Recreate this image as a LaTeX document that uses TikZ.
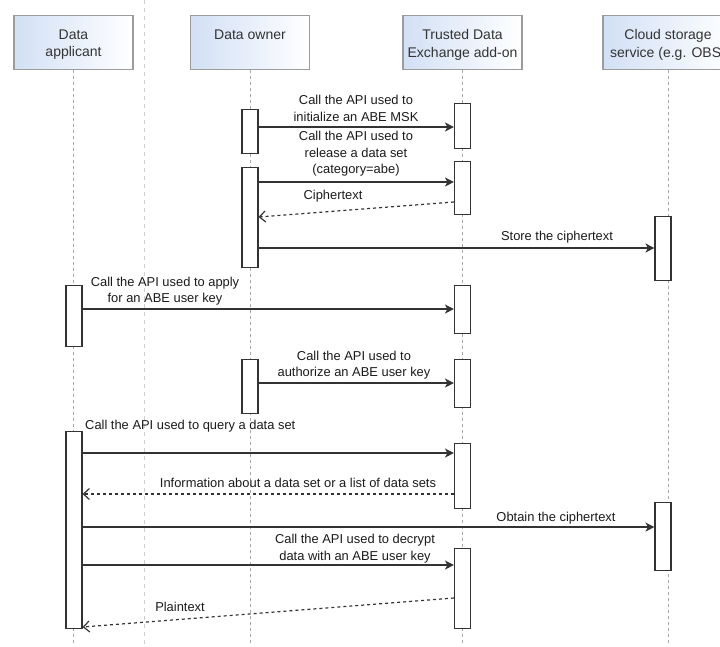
\documentclass[tikz,border=0pt]{standalone}
\usepackage{fontspec}
\setmainfont{Liberation Sans}
\usetikzlibrary{arrows.meta,calc}
\definecolor{hdrblue}{HTML}{D2E0F5}
\definecolor{hdrline}{HTML}{9C9C9C}
\definecolor{lifegray}{HTML}{A8A8A8}
\definecolor{sepgray}{HTML}{CFCFCF}
\definecolor{ink}{HTML}{333333}
\definecolor{txt}{HTML}{1A1A1A}
\begin{document}
\begin{tikzpicture}[x=1pt,y=-1pt,
 header/.style={draw=hdrline, line width=1.1pt, left color=hdrblue, right color=white, minimum width=119pt, minimum height=54pt, anchor=north, inner sep=0pt},
 htext/.style={anchor=north, align=center, font=\fontsize{14}{17.5}\selectfont, text=ink, inner sep=0pt},
 life/.style={draw=lifegray, line width=1pt, dash pattern=on 3pt off 3pt},
 sepline/.style={draw=sepgray, line width=1pt, dash pattern=on 4pt off 4pt},
 act/.style={draw=ink, fill=white, line width=1.1pt, minimum width=16pt, anchor=north, inner sep=0pt},
 msg/.style={draw=ink, line width=1.2pt, -{Stealth[length=9pt,width=9pt,inset=2.5pt]}},
 ret/.style={draw=ink, line width=1.2pt, dash pattern=on 3pt off 3pt, -{Straight Barb[length=6pt,width=11pt,line width=1.2pt]}},
 lbl/.style={font=\fontsize{12.9}{16.5}\selectfont, text=txt, align=center, inner sep=0pt},
]
\useasboundingbox (0,0) rectangle (720,646);
\clip (0,0) rectangle (720,646);

% separator
\coordinate (septop) at (144,0);
\coordinate (sepbot) at (144,646);
\draw[sepline] (septop) -- (sepbot);

% headers
\node[header] (hA) at (73.5,15) {};
\node[header] (hO) at (250,15) {};
\node[header] (hT) at (462.5,15) {};
\node[header, minimum width=130pt] (hC) at (668,15) {};
\node[htext] (tA) at (73.5,29.5) {Data\\applicant};
\node[htext] (tO) at (250,29.5) {Data owner};
\node[htext] (tT) at (462.5,29.5) {Trusted Data\\Exchange add-on};
\node[htext] (tC) at (668,29.5) {Cloud storage\\service (e.g. OBS)};

% lifelines
\coordinate (bot) at (0,646);
\draw[life] (hA.south) -- (hA.south |- bot);
\draw[life] (hO.south) -- (hO.south |- bot);
\draw[life] (hT.south) -- (hT.south |- bot);
\draw[life] (hC.south) -- (hC.south |- bot);

% activation boxes
\node[act, minimum height=44pt] (o1) at (250,109) {};
\node[act, minimum height=100pt] (o2) at (250,167) {};
\node[act, minimum height=54pt] (o3) at (250,359) {};
\node[act, minimum height=45pt] (t1) at (462.5,103) {};
\node[act, minimum height=53pt] (t2) at (462.5,161) {};
\node[act, minimum height=48pt] (t3) at (462.5,285) {};
\node[act, minimum height=48pt] (t4) at (462.5,359) {};
\node[act, minimum height=65pt] (t5) at (462.5,443) {};
\node[act, minimum height=80pt] (t6) at (462.5,548) {};
\node[act, minimum height=64pt] (c1) at (663,216) {};
\node[act, minimum height=68pt] (c2) at (663,502) {};
\node[act, minimum height=61pt] (a1) at (74,285) {};
\node[act, minimum height=197pt] (a2) at (74,431) {};

% rows
\coordinate (r1) at (0,127);
\coordinate (r2) at (0,182);
\coordinate (r3a) at (0,202);
\coordinate (r3b) at (0,217);
\coordinate (r4) at (0,248);
\coordinate (r5) at (0,309);
\coordinate (r6) at (0,383);
\coordinate (r7) at (0,453);
\coordinate (r8) at (0,494);
\coordinate (r9) at (0,527);
\coordinate (r10) at (0,565);
\coordinate (r11a) at (0,598);
\coordinate (r11b) at (0,627);

% messages
\draw[msg] (o1.east |- r1) -- (t1.west |- r1);
\draw[msg] (o2.east |- r2) -- (t2.west |- r2);
\draw[ret] (t2.west |- r3a) -- (o2.east |- r3b);
\draw[msg] (o2.east |- r4) -- (c1.west |- r4);
\draw[msg] (a1.east |- r5) -- (t3.west |- r5);
\draw[msg] (o3.east |- r6) -- (t4.west |- r6);
\draw[msg] (a2.east |- r7) -- (t5.west |- r7);
\draw[ret] (t5.west |- r8) -- (a2.east |- r8);
\draw[msg] (a2.east |- r9) -- (c2.west |- r9);
\draw[msg] (a2.east |- r10) -- (t6.west |- r10);
\draw[ret] (t6.west |- r11a) -- (a2.east |- r11b);

% labels
\node[lbl] (l1) at (356,108.5) {Call the API used to\\initialize an ABE MSK};
\node[lbl] (l2) at (356,154) {Call the API used to\\release a data set\\(category=abe)};
\node[lbl] (l3) at (333,196) {Ciphertext};
\node[lbl] (l4) at (557,237) {Store the ciphertext};
\node[lbl] (l5) at (165,291) {Call the API used to apply\\for an ABE user key};
\node[lbl] (l6) at (354,365) {Call the API used to\\authorize an ABE user key};
\node[lbl, anchor=west] (l7) at (85,426) {Call the API used to query a data set};
\node[lbl] (l8) at (298,483) {Information about a data set or a list of data sets};
\node[lbl] (l9) at (556,518) {Obtain the ciphertext};
\node[lbl] (l10) at (355,548.5) {Call the API used to decrypt\\data with an ABE user key};
\node[lbl] (l11) at (180,607) {Plaintext};
\end{tikzpicture}
\end{document}
